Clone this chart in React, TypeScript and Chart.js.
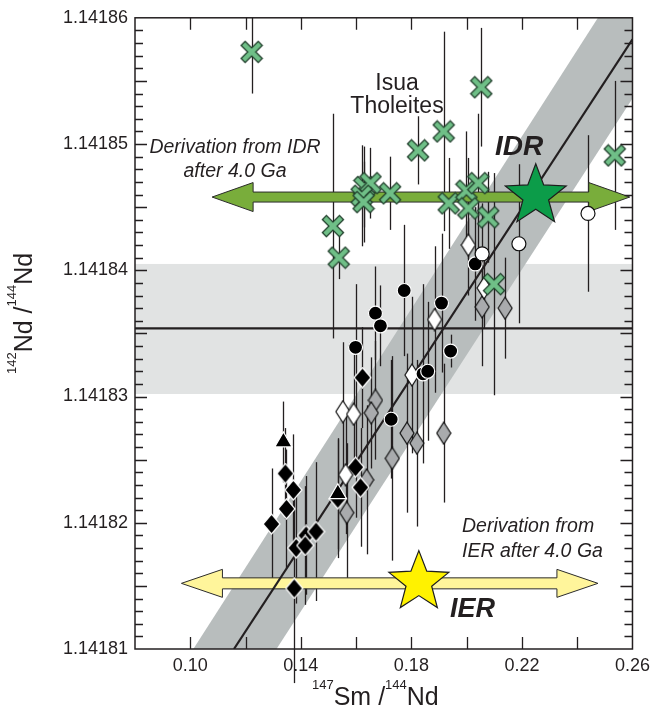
import React, { useEffect, useRef } from "react";
import { Chart, registerables } from "chart.js";
Chart.register(...registerables);

const X_MIN = 0.08;
const X_MAX = 0.26;
const Y_MIN = 1.14181;
const Y_MAX = 1.14186;
const X_TICK_LABELS = [0.1, 0.14, 0.18, 0.22, 0.26];
const Y_TICK_LABELS = [1.14181, 1.14182, 1.14183, 1.14184, 1.14185, 1.14186];

// Isua tholeites (green crosses)
const ISUA_X = [0.1222, 0.2053, 0.1917, 0.1824, 0.2536, 0.1516, 0.1537, 0.163, 0.1652, 0.162, 0.1627, 0.1723, 0.1935, 0.1999, 0.2042, 0.2006, 0.2078, 0.2099];
const ISUA_Y = [1.1418573, 1.1418545, 1.141851, 1.1418495, 1.1418491, 1.1418435, 1.141841, 1.1418466, 1.1418469, 1.1418459, 1.1418454, 1.1418461, 1.1418453, 1.1418463, 1.1418469, 1.1418449, 1.1418442, 1.1418389];
const ISUA_ERR = [0.0000033, 0.0000047, 0.0000079, 0.0000027, 0.0000059, 0.0000089, 0.0000017, 0.0000032, 0.0000028, 0.000004, 0.0000032, 0.0000029, 0.0000036, 0.0000047, 0.0000055, 0.000004, 0.0000036, 0.0000088];

// black circles
const BC_X = [0.1598, 0.167, 0.1688, 0.1774, 0.1909, 0.1942, 0.1842, 0.1859, 0.1727, 0.2031];
const BC_Y = [1.1418339, 1.1418366, 1.1418356, 1.1418384, 1.1418374, 1.1418336, 1.1418318, 1.141832, 1.1418282, 1.1418405];
const BC_ERR = [0.000005, 0.0000037, 0.0000032, 0.0000052, 0.0000055, 0.0000013, 0.0000071, 0.0000055, 0.0000047, 0.0000045];

// white circles
const WC_X = [0.2439, 0.2189, 0.2056];
const WC_Y = [1.1418445, 1.1418421, 1.1418413];
const WC_ERR = [0.0000062, 0.0000063, 0.000004];

// white diamonds
const WD_X = [0.2006, 0.2063, 0.1884, 0.1802, 0.1552, 0.1591, 0.1562];
const WD_Y = [1.141842, 1.1418386, 1.1418361, 1.1418317, 1.1418288, 1.1418286, 1.1418238];
const WD_ERR = [0.000004, 0.0000032, 0.0000058, 0.0000062, 0.0000055, 0.0000047, 0.0000047];

// grey diamonds
const GD_X = [0.2056, 0.2139, 0.167, 0.1655, 0.1731, 0.1784, 0.182, 0.1917, 0.1638, 0.1566];
const GD_Y = [1.1418371, 1.141837, 1.1418297, 1.1418287, 1.1418251, 1.1418271, 1.1418263, 1.1418271, 1.1418234, 1.1418208];
const GD_ERR = [0.0000047, 0.000004, 0.0000047, 0.0000044, 0.0000081, 0.0000063, 0.0000066, 0.0000055, 0.0000059, 0.0000055];

// black diamonds
const BD_X = [0.1623, 0.1344, 0.1373, 0.1348, 0.1294, 0.1419, 0.1455, 0.1383, 0.1416, 0.1376, 0.1598, 0.1616, 0.1534];
const BD_Y = [1.1418315, 1.1418239, 1.1418226, 1.1418211, 1.1418199, 1.141819, 1.1418193, 1.141818, 1.1418182, 1.1418148, 1.1418244, 1.1418228, 1.1418219];
const BD_ERR = [0.000004, 0.0000036, 0.0000044, 0.0000047, 0.0000044, 0.0000047, 0.0000055, 0.0000044, 0.0000047, 0.0000075, 0.000004, 0.0000047, 0.0000047];

// black triangles
const BT_X = [0.1337, 0.1534];
const BT_Y = [1.1418264, 1.1418223];
const BT_ERR = [0.0000032, 0.0000044];

// reference lines / bands
const HBAND_Y = [1.1418302, 1.1418405];
const HLINE_Y = 1.1418354;
const REG_X = [0.1158, 0.26];
const REG_Y = [1.14181, 1.1418583];
const BAND_X = [0.1011, 0.1312, 0.26, 0.26, 0.2475];
const BAND_Y = [1.14181, 1.14181, 1.1418536, 1.14186, 1.14186];

// reservoirs
const IDR_STAR = { x: 0.225, y: 1.1418459 };
const IER_STAR = { x: 0.1827, y: 1.1418153 };
const IDR_ARROW_X = [0.1079, 0.259];
const IDR_ARROW_Y = 1.1418458;
const IER_ARROW_X = [0.0968, 0.2475];
const IER_ARROW_Y = 1.1418152;

const INK = "#231f20";
const FONT = "'Liberation Sans', Arial, Helvetica, sans-serif";

const pts = (xs: number[], ys: number[]) => xs.map((x, i) => ({ x, y: ys[i] }));

function makeCanvas(w: number, h: number, draw: (c: CanvasRenderingContext2D) => void) {
  const c = document.createElement("canvas");
  c.width = w;
  c.height = h;
  draw(c.getContext("2d") as CanvasRenderingContext2D);
  return c;
}

function diamondCanvas(fill: string, stroke: string, w: number, h: number) {
  return makeCanvas(w, h, (c) => {
    c.beginPath();
    c.moveTo(w / 2, 1);
    c.lineTo(w - 1, h / 2);
    c.lineTo(w / 2, h - 1);
    c.lineTo(1, h / 2);
    c.closePath();
    c.fillStyle = fill;
    c.fill();
    c.lineWidth = 1.2;
    c.strokeStyle = stroke;
    c.stroke();
  });
}

function crossCanvas() {
  return makeCanvas(24, 24, (c) => {
    const seg = (a: number, b: number) => {
      c.beginPath();
      c.moveTo(a, a);
      c.lineTo(b, b);
      c.moveTo(b, a);
      c.lineTo(a, b);
      c.stroke();
    };
    c.lineCap = "butt";
    c.strokeStyle = "#1f3d2a";
    c.lineWidth = 7;
    seg(3, 21);
    c.strokeStyle = "#6fbf87";
    c.lineWidth = 4.4;
    seg(3.9, 20.1);
  });
}

function drawArrow(ctx: CanvasRenderingContext2D, xl: number, xr: number, yc: number, sh: number, hh: number, hl: number, fill: string) {
  ctx.beginPath();
  ctx.moveTo(xl, yc);
  ctx.lineTo(xl + hl, yc - hh);
  ctx.lineTo(xl + hl, yc - sh);
  ctx.lineTo(xr - hl, yc - sh);
  ctx.lineTo(xr - hl, yc - hh);
  ctx.lineTo(xr, yc);
  ctx.lineTo(xr - hl, yc + hh);
  ctx.lineTo(xr - hl, yc + sh);
  ctx.lineTo(xl + hl, yc + sh);
  ctx.lineTo(xl + hl, yc + hh);
  ctx.closePath();
  ctx.fillStyle = fill;
  ctx.fill();
  ctx.lineWidth = 1;
  ctx.strokeStyle = "#2b2b2b";
  ctx.stroke();
}

function drawStar(ctx: CanvasRenderingContext2D, cx: number, cy: number, R: number, r: number, fill: string) {
  ctx.beginPath();
  for (let i = 0; i < 10; i++) {
    const rad = i % 2 === 0 ? R : r;
    const a = -Math.PI / 2 + (i * Math.PI) / 5;
    const px = cx + rad * Math.cos(a);
    const py = cy + rad * Math.sin(a);
    if (i === 0) ctx.moveTo(px, py);
    else ctx.lineTo(px, py);
  }
  ctx.closePath();
  ctx.fillStyle = fill;
  ctx.fill();
  ctx.lineWidth = 1.2;
  ctx.strokeStyle = "#1d1d1d";
  ctx.stroke();
}

type Run = { t: string; sup?: boolean };
function drawRuns(ctx: CanvasRenderingContext2D, runs: Run[], x: number, y: number) {
  let cx = x;
  for (const r of runs) {
    ctx.font = `${r.sup ? 13 : 25}px ${FONT}`;
    ctx.fillText(r.t, cx, r.sup ? y - 16 : y);
    cx += ctx.measureText(r.t).width;
  }
}

const overlay = {
  id: "overlay",
  beforeDatasetsDraw(chart: any) {
    const { ctx, chartArea: a, scales } = chart;
    const X = (v: number) => scales.x.getPixelForValue(v);
    const Y = (v: number) => scales.y.getPixelForValue(v);
    ctx.save();
    ctx.beginPath();
    ctx.rect(a.left, a.top, a.right - a.left, a.bottom - a.top);
    ctx.clip();
    ctx.fillStyle = "#e1e3e3";
    ctx.fillRect(a.left, Y(HBAND_Y[1]), a.right - a.left, Y(HBAND_Y[0]) - Y(HBAND_Y[1]));
    ctx.fillStyle = "#b8bdbd";
    ctx.beginPath();
    BAND_X.forEach((bx, i) => {
      if (i === 0) ctx.moveTo(X(bx), Y(BAND_Y[i]));
      else ctx.lineTo(X(bx), Y(BAND_Y[i]));
    });
    ctx.closePath();
    ctx.fill();
    ctx.strokeStyle = INK;
    ctx.lineWidth = 2.4;
    ctx.beginPath();
    ctx.moveTo(a.left, Y(HLINE_Y));
    ctx.lineTo(a.right, Y(HLINE_Y));
    ctx.stroke();
    ctx.restore();

    // error bars
    const groups: [number[], number[], number[]][] = [
      [ISUA_X, ISUA_Y, ISUA_ERR],
      [BC_X, BC_Y, BC_ERR],
      [WC_X, WC_Y, WC_ERR],
      [WD_X, WD_Y, WD_ERR],
      [GD_X, GD_Y, GD_ERR],
      [BD_X, BD_Y, BD_ERR],
      [BT_X, BT_Y, BT_ERR],
    ];
    ctx.save();
    ctx.strokeStyle = INK;
    ctx.lineWidth = 1.3;
    for (const [xs, ys, es] of groups) {
      xs.forEach((xv, i) => {
        const px = Math.round(X(xv)) + 0.5;
        ctx.beginPath();
        ctx.moveTo(px, Math.max(a.top, Y(ys[i] + es[i])));
        ctx.lineTo(px, Y(ys[i] - es[i]));
        ctx.stroke();
      });
    }
    ctx.restore();

    // arrows
    ctx.save();
    drawArrow(ctx, X(IDR_ARROW_X[0]), X(IDR_ARROW_X[1]), Y(IDR_ARROW_Y), 5, 14.5, 41, "#79ad3b");
    drawArrow(ctx, X(IER_ARROW_X[0]), X(IER_ARROW_X[1]), Y(IER_ARROW_Y), 5.5, 14, 41, "#fff59b");
    ctx.restore();

    // regression line
    ctx.save();
    ctx.beginPath();
    ctx.rect(a.left, a.top, a.right - a.left, a.bottom - a.top);
    ctx.clip();
    ctx.strokeStyle = INK;
    ctx.lineWidth = 2.2;
    ctx.beginPath();
    ctx.moveTo(X(REG_X[0]), Y(REG_Y[0]));
    ctx.lineTo(X(REG_X[1]), Y(REG_Y[1]));
    ctx.stroke();
    ctx.restore();
  },
  afterDatasetsDraw(chart: any) {
    const { ctx, chartArea: a, scales } = chart;
    const X = (v: number) => scales.x.getPixelForValue(v);
    const Y = (v: number) => scales.y.getPixelForValue(v);
    ctx.save();
    drawStar(ctx, X(IDR_STAR.x), Y(IDR_STAR.y), 32, 13.5, "#0c9c49");
    drawStar(ctx, X(IER_STAR.x), Y(IER_STAR.y), 31.5, 13.5, "#fff200");

    ctx.fillStyle = INK;
    ctx.textBaseline = "alphabetic";
    ctx.textAlign = "center";
    ctx.font = `23px ${FONT}`;
    ctx.fillText("Isua", 397, 90);
    ctx.fillText("Tholeites", 397, 113);
    ctx.font = `italic 19.5px ${FONT}`;
    ctx.fillText("Derivation from IDR", 235, 153);
    ctx.fillText("after 4.0 Ga", 235, 177);
    ctx.textAlign = "left";
    ctx.fillText("Derivation from", 462, 532);
    ctx.fillText("IER after 4.0 Ga", 462, 557);
    ctx.font = `italic bold 28px ${FONT}`;
    ctx.fillText("IDR", 495, 155);
    ctx.font = `italic bold 27px ${FONT}`;
    ctx.fillText("IER", 450, 617);

    // frame
    ctx.strokeStyle = INK;
    ctx.lineWidth = 1.5;
    ctx.strokeRect(a.left, a.top, a.right - a.left, a.bottom - a.top);
    // ticks
    ctx.lineWidth = 1.3;
    ctx.beginPath();
    const nY = Math.round((Y_MAX - Y_MIN) / 0.000001);
    for (let k = 1; k < nY; k++) {
      const py = Math.round(Y(Y_MIN + k * 0.000001)) + 0.5;
      const len = k % 5 === 0 ? 12 : 8;
      ctx.moveTo(a.left, py);
      ctx.lineTo(a.left + len, py);
      ctx.moveTo(a.right, py);
      ctx.lineTo(a.right - len, py);
    }
    const nX = Math.round((X_MAX - X_MIN) / 0.02);
    for (let k = 1; k < nX; k++) {
      const px = Math.round(X(X_MIN + k * 0.02)) + 0.5;
      ctx.moveTo(px, a.top);
      ctx.lineTo(px, a.top + 12);
      ctx.moveTo(px, a.bottom);
      ctx.lineTo(px, a.bottom - 12);
    }
    ctx.stroke();

    // axis titles
    ctx.fillStyle = INK;
    ctx.textAlign = "left";
    drawRuns(ctx, [{ t: "147", sup: true }, { t: "Sm /" }, { t: "144", sup: true }, { t: "Nd" }], 312, 705);
    ctx.translate(32, 374);
    ctx.rotate(-Math.PI / 2);
    drawRuns(ctx, [{ t: "142", sup: true }, { t: "Nd /" }, { t: "144", sup: true }, { t: "Nd" }], 0, 0);
    ctx.restore();
  },
};

export default function App() {
  const ref = useRef<HTMLCanvasElement>(null);
  useEffect(() => {
    document.body.style.margin = "0";
    const cross = crossCanvas();
    const wDiamond = diamondCanvas("#ffffff", "#111111", 16, 24);
    const gDiamond = diamondCanvas("#a9abad", "#111111", 16, 24);
    const bDiamond = diamondCanvas("#000000", "#ffffff", 19, 22);
    const chart = new Chart(ref.current as HTMLCanvasElement, {
      type: "scatter",
      data: {
        datasets: [
          { label: "Isua tholeites", data: pts(ISUA_X, ISUA_Y), pointStyle: cross as any, pointRadius: 10 },
          { label: "white circles", data: pts(WC_X, WC_Y), pointStyle: "circle", pointRadius: 7, backgroundColor: "#ffffff", borderColor: "#111111", borderWidth: 1.2 },
          { label: "black circles", data: pts(BC_X, BC_Y), pointStyle: "circle", pointRadius: 7, backgroundColor: "#000000", borderColor: "#ffffff", borderWidth: 1.2 },
          { label: "white diamonds", data: pts(WD_X, WD_Y), pointStyle: wDiamond as any, pointRadius: 10 },
          { label: "black triangles", data: pts(BT_X, BT_Y), pointStyle: "triangle", pointRadius: 10, backgroundColor: "#000000", borderColor: "#ffffff", borderWidth: 1.2 },
          { label: "black diamonds", data: pts(BD_X, BD_Y), pointStyle: bDiamond as any, pointRadius: 10 },
          { label: "grey diamonds", data: pts(GD_X, GD_Y), pointStyle: gDiamond as any, pointRadius: 10 },
        ],
      },
      options: {
        animation: false,
        responsive: false,
        maintainAspectRatio: false,
        layout: { padding: { top: 17, right: 18, left: 0, bottom: 0 } },
        plugins: { legend: { display: false }, tooltip: { enabled: false } },
        scales: {
          x: {
            type: "linear",
            min: X_MIN,
            max: X_MAX,
            grid: { display: false, drawTicks: false },
            border: { display: false },
            afterBuildTicks: (s: any) => {
              s.ticks = X_TICK_LABELS.map((v) => ({ value: v }));
            },
            afterFit: (s: any) => {
              s.height = 59;
            },
            ticks: {
              padding: 6,
              autoSkip: false,
              maxRotation: 0,
              color: INK,
              font: { family: FONT, size: 18 },
              callback: (v: any) => Number(v).toFixed(2),
            },
          },
          y: {
            type: "linear",
            min: Y_MIN,
            max: Y_MAX,
            grid: { display: false, drawTicks: false },
            border: { display: false },
            afterBuildTicks: (s: any) => {
              s.ticks = Y_TICK_LABELS.map((v) => ({ value: v }));
            },
            afterFit: (s: any) => {
              s.width = 135;
            },
            ticks: {
              padding: 7,
              autoSkip: false,
              color: INK,
              font: { family: FONT, size: 18 },
              callback: (v: any) => Number(v).toFixed(5),
            },
          },
        },
      },
      plugins: [overlay],
    });
    return () => chart.destroy();
  }, []);
  return (
    <div style={{ position: "fixed", left: 0, top: 0, width: 656, height: 708, background: "#fff" }}>
      <canvas ref={ref} width={656} height={708} style={{ display: "block", width: 656, height: 708 }} />
    </div>
  );
}
